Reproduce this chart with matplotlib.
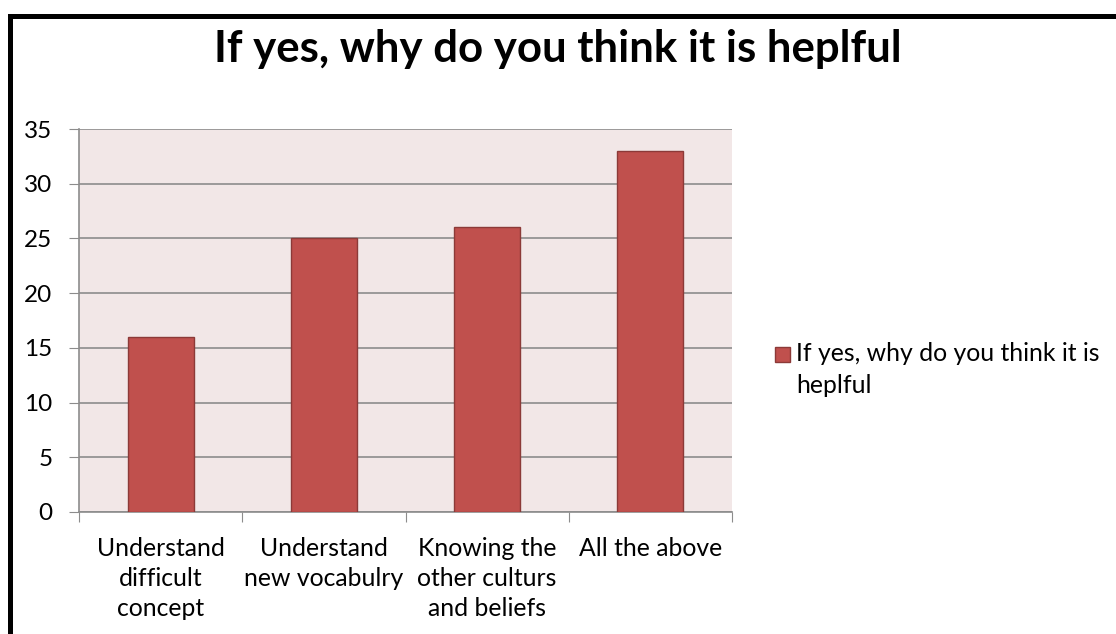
import numpy as np
import matplotlib.pyplot as plt
from matplotlib.lines import Line2D
from matplotlib.patches import Rectangle

plt.rcParams['font.family'] = ['Lato', 'DejaVu Sans']

# ---------------------------------------------------------
# Data
# ---------------------------------------------------------
categories = [
    "Understand\ndifficult\nconcept",
    "Understand\nnew vocabulry",
    "Knowing the\nother culturs\nand beliefs",
    "All the above",
]
counts = [16, 25, 26, 33]
series_name = "If yes, why do you think it is heplful"
legend_label = "If yes, why do you think it is\nheplful"
y_ticks = [0, 5, 10, 15, 20, 25, 30, 35]

BAR = "#C0504D"
BAR_EDGE = "#8C3A38"
PLOT_BG = "#F2E7E7"
GRID = "#8C8C8C"


def main():
    W, H = 1116, 634
    fig = plt.figure(figsize=(W / 100, H / 100), dpi=100)

    # plot area in pixels: x 79..732, y 129..512
    left, right, top, bottom = 79, 732, 129, 512
    ax = fig.add_axes([left / W, 1 - bottom / H, (right - left) / W, (bottom - top) / H])
    ax.set_facecolor(PLOT_BG)

    x = np.arange(len(categories))
    ax.bar(x, counts, width=0.405, color=BAR, edgecolor=BAR_EDGE, linewidth=1.0, zorder=3)

    ax.set_xlim(-0.5, len(categories) - 0.5)
    ax.set_ylim(0, 35)
    ax.set_yticks(y_ticks)
    ax.tick_params(axis="y", labelsize=17.5, length=7, color=GRID, pad=12)
    ax.yaxis.grid(True, color=GRID, linewidth=1.2, zorder=1)
    ax.set_axisbelow(True)

    # category boundaries carry the tick marks, labels sit at bar centres
    ax.set_xticks(np.arange(-0.5, len(categories)), minor=False)
    ax.set_xticklabels([])
    ax.tick_params(axis="x", length=7, color=GRID)
    ax.set_xticks(x, minor=True)
    ax.set_xticklabels(categories, minor=True)
    ax.tick_params(axis="x", which="minor", length=0, labelsize=17.8, pad=18)
    for lbl in ax.get_xticklabels(minor=True):
        lbl.set_linespacing(1.37)

    for side in ("top", "right"):
        ax.spines[side].set_visible(False)
    for side in ("left", "bottom"):
        ax.spines[side].set_color(GRID)
        ax.spines[side].set_linewidth(1.2)

    fig.text(0.5, 1 - 49 / H, series_name, ha="center", va="center",
             fontsize=31.5, fontweight="bold")

    # legend: swatch sits beside the first line of the wrapped label
    fig.add_artist(Rectangle((775 / W, 1 - 362 / H), 15 / W, 15 / H,
                             transform=fig.transFigure, facecolor=BAR,
                             edgecolor=BAR_EDGE, linewidth=1.0))
    fig.text(796 / W, 1 - 342 / H, legend_label, ha="left", va="top",
             fontsize=17.8, linespacing=1.45)

    # outer frame of the chart (runs off the right and bottom edges)
    fig.add_artist(Line2D([10 / W, 1.0], [1 - 15.5 / H, 1 - 15.5 / H],
                          transform=fig.transFigure, color="black", linewidth=3.6,
                          solid_capstyle="projecting"))
    fig.add_artist(Line2D([10 / W, 10 / W], [1 - 15.5 / H, 0.0],
                          transform=fig.transFigure, color="black", linewidth=3.6,
                          solid_capstyle="projecting"))

    fig.savefig("out.png", dpi=100)


if __name__ == "__main__":
    main()
